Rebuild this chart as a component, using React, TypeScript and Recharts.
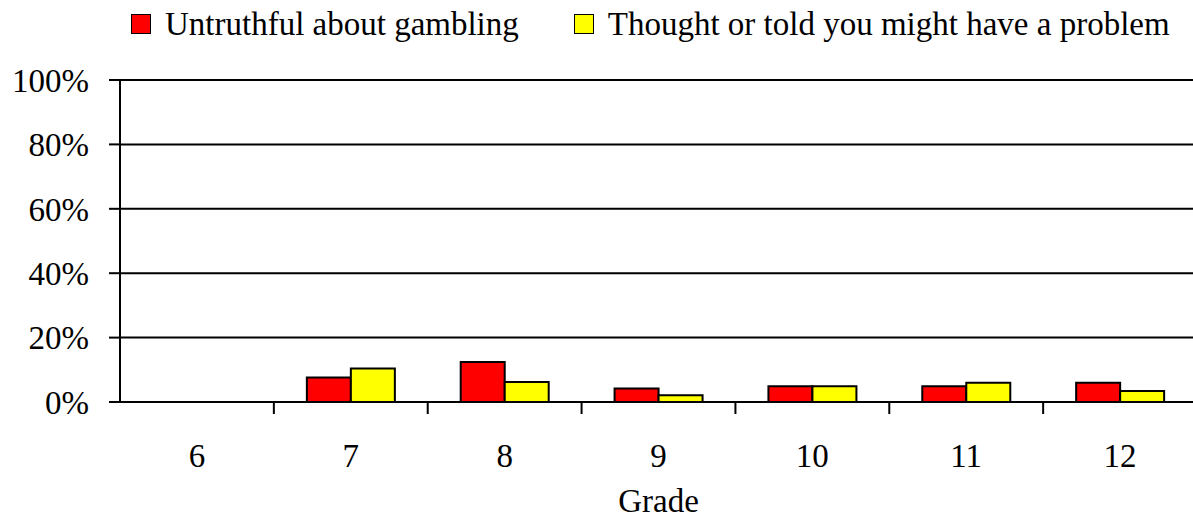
import React from 'react';
import { BarChart, Bar, XAxis, YAxis, CartesianGrid, Legend } from 'recharts';

const grades = ['6', '7', '8', '9', '10', '11', '12'];
const untruthful = [0, 7.6, 12.4, 4.2, 4.9, 4.9, 6.0];
const toldProblem = [0, 10.4, 6.2, 2.1, 4.9, 6.0, 3.4];
const yTicks = [0, 20, 40, 60, 80, 100];

const seriesNames = ['Untruthful about gambling', 'Thought or told you might have a problem'];
const seriesColors = ['#FF0000', '#FFFF00'];

const data = grades.map((g, i) => ({
  grade: g,
  untruthful: untruthful[i],
  told: toldProblem[i],
}));

const FONT = '"Liberation Serif", "Times New Roman", serif';
const FONT_SIZE = 33;

// legend drawn in series order, on one line
function LegendRow() {
  return (
    <div
      style={{
        display: 'flex',
        alignItems: 'center',
        height: 40,
        width: 1193,
        whiteSpace: 'nowrap',
        fontFamily: FONT,
        fontSize: FONT_SIZE,
        color: '#000',
        paddingLeft: 131,
        boxSizing: 'border-box',
      }}
    >
      {seriesNames.map((name, i) => (
        <div key={`leg-${i}`} style={{ display: 'flex', alignItems: 'center', marginRight: 55 }}>
          <span
            style={{
              display: 'inline-block',
              width: 18,
              height: 18,
              background: seriesColors[i],
              border: '1.5px solid #000',
              marginRight: 14,
            }}
          />
          <span style={{ lineHeight: '36px' }}>{name}</span>
        </div>
      ))}
    </div>
  );
}

// category label at the band centre, tick mark at the band's left edge
function GradeTick(props: any) {
  const { x, y, payload, index } = props;
  const half = payload && typeof payload.offset === 'number' ? payload.offset : 0;
  return (
    <g>
      {index > 0 && half > 0 && (
        <line x1={x - half} x2={x - half} y1={y - 42} y2={y - 30} stroke="#000" strokeWidth={2} />
      )}
      <text
        x={x}
        y={y}
        dy="0.71em"
        textAnchor="middle"
        fill="#000"
        fontSize={FONT_SIZE}
        fontFamily={FONT}
      >
        {payload.value}
      </text>
    </g>
  );
}

export default function App() {
  return (
    <div style={{ position: 'absolute', left: 0, top: 0, width: 1193, height: 518, background: '#fff', overflow: 'hidden' }}>
      <BarChart
        width={1197}
        height={518}
        data={data}
        margin={{ top: 40, right: 0, left: 0, bottom: 0 }}
        barGap={0}
        barSize={44}
      >
        <CartesianGrid vertical={false} stroke="#000" strokeWidth={2} />
        <XAxis
          dataKey="grade"
          height={116}
          axisLine={{ stroke: '#000', strokeWidth: 2 }}
          tickLine={false}
          tickSize={0}
          tickMargin={42}
          tick={<GradeTick />}
          interval={0}
          label={{ value: 'Grade', position: 'insideBottom', offset: 6, fill: '#000', fontSize: FONT_SIZE, fontFamily: FONT }}
        />
        <YAxis
          width={120}
          domain={[0, 100]}
          ticks={yTicks}
          tickFormatter={(v: number) => `${v}%`}
          axisLine={{ stroke: '#000', strokeWidth: 2 }}
          tickLine={{ stroke: '#000', strokeWidth: 2 }}
          tickSize={11}
          tickMargin={20}
          tick={{ fill: '#000', fontSize: FONT_SIZE, fontFamily: FONT }}
        />
        <Legend
          verticalAlign="top"
          align="left"
          content={LegendRow}
          wrapperStyle={{ top: 4, left: 0 }}
        />
        <Bar
          dataKey="untruthful"
          name={seriesNames[0]}
          fill={seriesColors[0]}
          stroke="#000"
          strokeWidth={2}
          isAnimationActive={false}
        />
        <Bar
          dataKey="told"
          name={seriesNames[1]}
          fill={seriesColors[1]}
          stroke="#000"
          strokeWidth={2}
          isAnimationActive={false}
        />
      </BarChart>
    </div>
  );
}
